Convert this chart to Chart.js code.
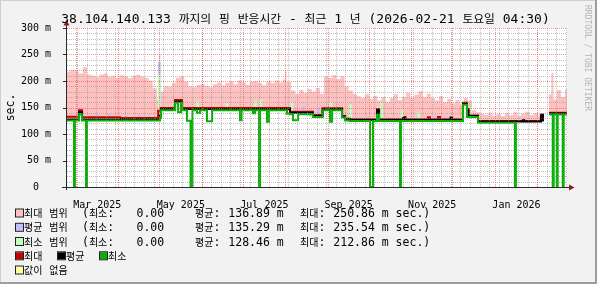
<!DOCTYPE html>
<html>
<head>
<meta charset="utf-8">
<script src="https://cdn.jsdelivr.net/npm/chart.js@4.4.1/dist/chart.umd.min.js"></script>
<style>
  html, body { margin: 0; padding: 0; background: #f2f2f2; }
  canvas { display: block; }
</style>
</head>
<body>
<canvas id="ping" width="597" height="284"></canvas>
<script>
// x is counted in days from 2025-03-01, the graph covers one year up to 2026-02-21 04:30
const xFirst = -6.6, xLast = 358.4;
const labelMonths = [[2025, 2], [2025, 4], [2025, 6], [2025, 8], [2025, 10], [2026, 0]];
const tickLabels = ['Mar 2025', 'May 2025', 'Jul 2025', 'Sep 2025', 'Nov 2025', 'Jan 2026'];

// max range: top of the pink band (it is filled down to the avg line)
const areaDays = [
  -6.6, -4, -1, 2, 5, 8, 11, 14, 17, 20,
  23, 26, 29, 32, 35, 38, 41, 44, 47, 50,
  53, 56, 59, 60.6, 61.6, 64, 67, 70, 73, 76,
  79, 82, 85, 88, 91, 94, 97, 100, 103, 106,
  109, 112, 115, 118, 121, 124, 127, 130, 133, 136,
  139, 142, 145, 148, 151, 152.5, 153.5, 157, 160, 163,
  166, 169, 172, 175, 178, 181, 184, 187, 190, 193,
  196, 199, 202, 205, 208, 211, 214, 217, 220, 223,
  226, 229, 232, 235, 238, 241, 244, 247, 250, 253,
  256, 259, 262, 265, 268, 271, 274, 277, 280, 283,
  286, 289, 292, 295, 298, 301, 304, 307, 310, 313,
  316, 319, 322, 325, 328, 331, 334, 337, 340, 342.3,
  345.3, 347, 348.5, 351, 354, 357, 358.4
];
const maxRangeTop = [
  218, 221, 220, 214, 226, 212, 210, 207, 212, 214,
  208, 210, 206, 211, 209, 205, 210, 212, 208, 206,
  201, 186, 165, 250, 180, 190, 189, 196, 206, 209,
  199, 190, 188, 193, 195, 191, 188, 194, 197, 192,
  196, 199, 194, 201, 197, 193, 198, 200, 196, 192,
  199, 196, 201, 197, 203, 220, 198, 182, 176, 183,
  178, 185, 180, 187, 176, 208, 206, 211, 204, 209,
  190, 182, 176, 171, 168, 175, 166, 172, 163, 170,
  161, 168, 175, 164, 170, 178, 168, 174, 181, 170,
  176, 168, 163, 171, 160, 166, 158, 164, 155, 168,
  163, 145, 141, 138, 136, 140, 135, 138, 134, 139,
  136, 141, 135, 138, 142, 136, 139, 135, 140, null,
  175, 215, 165, 183, 170, 184, 184
];

// avg range and min range spikes (low, high)
const avgRangeDays = [2.9, 15, 24, 37, 46, 53, 60.8, 161, 166, 171, 177, 205, 213, 228, 245, 262, 270];
const avgRangeLow  = [141, 128, 128, 128, 128, 128, 135, 140, 140, 134, 134, 126.5, 126.5, 126.5, 126.5, 126.5, 126.5];
const avgRangeHigh = [151, 136, 138, 134, 137, 135, 235, 150, 152, 146, 149, 131, 132, 130, 131, 132, 130];

const minRangeDays = [60.8, 88.8, 110, 131, 134.8, 157.5, 186, 200.5, 220, 223, 238, 250, 288];
const minRangeLow  = [130, 145, 145, 145, 145, 140, 145, 125, 125, 125, 125, 125, 132];
const minRangeHigh = [212, 161, 158, 162, 164, 160, 160, 155, 150, 158, 145, 140, 150];

// step lines (value holds until the next day listed)
const maxDays = [-6.6, 2.2, 4.4, 32.1, 59.9, 61.8, 72.3, 77.4, 156.2, 173, 180, 194.2, 196.4, 200, 219.7, 221.2,
  239.4, 240.5, 256.9, 258.3, 264.2, 265.7, 282.5, 285.4, 286.5, 293.4, 339.4, 340.9, 342.3, 345.3, 358.4];
const maxVals = [132.5, 145, 131.5, 130, 144, 149, 164, 149, 142, 136, 148.5, 134, 129, 128, 147, 128,
  132, 128, 131.5, 128, 132, 128, 159, 147, 135, 124.5, 137, 124.5, null, 140, 140];

const avgDays = [-6.6, 2.2, 4.4, 61.3, 62, 72.3, 77.4, 156.2, 173, 180, 194.2, 196.4, 200, 219.7, 221.2,
  238.8, 239.9, 273.4, 274.5, 282.5, 285.4, 286.5, 293.4, 326.3, 327.1, 339.4, 340.9, 342.3, 345.3, 358.4];
const avgVals = [127.5, 141, 127.5, 135, 147, 161, 147, 140, 134, 147, 133, 128, 126.5, 145, 126.5,
  130, 126.5, 131, 126.5, 157, 145, 134, 123.5, 126, 123.5, 135.5, 123.5, null, 138.5, 138.5];

const minDays = [-6.6, -1.5, -0.8, 2.2, 4.4, 7.3, 8.0, 61.3, 62, 72.3, 74.5, 76.6, 77.4, 81, 83.6, 85,
  88.3, 90.5, 95.6, 99.3, 119.7, 120.8, 129.2, 130.7, 133.6, 134.3, 139.4, 140.9, 154, 156.2, 158.4, 162,
  173, 180, 185.4, 186.9, 194.2, 196.4, 200, 214.6, 216.8, 219.7, 221.2, 236.5, 237.2, 282.5, 285.4, 293.4,
  320.4, 321.1, 342.3, 345.3, 348, 348.7, 350.9, 351.6, 355.3, 356, 358.4];
const minVals = [125.5, 0, 125.5, 137, 125.5, 0, 125.5, 130, 145, 159, 141, 159, 145, 125, 0, 145,
  140, 145, 124, 145, 126, 145, 139, 145, 0, 145, 123, 145, 138, 137.5, 126, 137.5,
  132, 145, 123, 145, 131, 125.5, 124.5, 0, 124.5, 136, 124.5, 0, 124.5, 155, 132, 121,
  0, 121, null, 137, 0, 137, 0, 137, 0, 137, 137];

// legend
const titleText = '38.104.140.133 까지의 핑 반응시간 - 최근 1 년 (2026-02-21 토요일 04:30)';
const legendNames = ['최대 범위', '평균 범위', '최소 범위'];
const legendMin = ['0.00', '0.00', '0.00'];
const legendAvg = ['136.89 m', '135.29 m', '128.46 m'];
const legendMax = ['250.86 m sec.)', '235.54 m sec.)', '212.86 m sec.)'];

const MONO = '"DejaVu Sans Mono", monospace';
const KR = '"Noto Sans CJK KR", sans-serif';
const C = {
  pink: '#ffc0c0', lav: '#c0c0ff', lgreen: '#c0ffc0',
  red: '#c80000', black: '#000000', green: '#00b400', yellow: '#ffffa0',
  minor: 'rgba(140,140,140,0.55)', major: 'rgba(222,79,79,0.6)', axis: '#2a2a2a', arrow: '#8a1f1f'
};

const dayOf = (y, m, d) => (Date.UTC(y, m, d) - Date.UTC(2025, 2, 1)) / 86400000;
const xTicks = [];
for (let d = 1; d <= xLast; d += 7) xTicks.push({ value: d, kind: 'minor' });   // Sundays
for (let m = 2; m < 14; m++) xTicks.push({ value: dayOf(2025, m, 1), kind: 'major' });
labelMonths.forEach(([y, m], i) => {
  const len = dayOf(y, m + 1, 1) - dayOf(y, m, 1);
  xTicks.push({ value: dayOf(y, m, 1) + len / 2, kind: 'label', lbl: tickLabels[i] });
});

const pts = (xs, ys) => xs.map((x, i) => ({ x, y: ys[i] }));
const bars = (xs, lo, hi) => xs.map((x, i) => ({ x, y: [lo[i], hi[i]] }));
const stepLine = (data, color, order) => ({
  type: 'line', data, borderColor: color, borderWidth: 2, stepped: true,
  pointRadius: 0, fill: false, order
});

// text with hangul runs in the CJK font
const HANGUL = /[\u3131-\uD7A3]/;
const runs = t => t.match(/[\u3131-\uD7A3]+|[^\u3131-\uD7A3]+/g) || [];
function textWidth(ctx, t, latin, kr) {
  let w = 0;
  for (const r of runs(t)) { ctx.font = HANGUL.test(r) ? kr : latin; w += ctx.measureText(r).width; }
  return w;
}
function drawText(ctx, t, x, y, latin, kr) {
  for (const r of runs(t)) {
    ctx.font = HANGUL.test(r) ? kr : latin;
    ctx.fillText(r, x, y);
    x += ctx.measureText(r).width;
  }
  return x;
}
function box(ctx, x, top, color) {
  ctx.fillStyle = color;
  ctx.fillRect(x + 1, top + 1, 7, 7);
  ctx.strokeStyle = '#202020';
  ctx.lineWidth = 1;
  ctx.strokeRect(x + 0.5, top + 0.5, 8, 8);
}

// rrdtool paints its dotted grid after the graph, with translucent colours
const dottedGrid = {
  id: 'dottedGrid',
  afterDatasetsDraw(chart) {
    const { ctx, chartArea: a, scales: { x, y } } = chart;
    const top = Math.round(a.top), bottom = Math.round(a.bottom);
    const left = Math.round(a.left), right = Math.round(a.right);
    const vline = (px, col) => { ctx.fillStyle = col; for (let q = top; q < bottom; q += 2) ctx.fillRect(px, q, 1, 1); };
    const hline = (py, col) => { ctx.fillStyle = col; for (let q = left; q < right; q += 2) ctx.fillRect(q, py, 1, 1); };
    ctx.save();
    for (const t of xTicks) if (t.kind === 'minor') vline(Math.floor(x.getPixelForValue(t.value)), C.minor);
    for (let v = 10; v < 300; v += 10) if (v % 50) hline(Math.round(y.getPixelForValue(v)), C.minor);
    for (const t of xTicks) if (t.kind === 'major') vline(Math.floor(x.getPixelForValue(t.value)), C.major);
    for (let v = 50; v <= 300; v += 50) hline(Math.round(y.getPixelForValue(v)), C.major);
    ctx.restore();
  }
};

const rrdFrame = {
  id: 'rrdFrame',
  beforeDraw(chart) {
    const { ctx, chartArea: a, width: W, height: H } = chart;
    ctx.save();
    ctx.fillStyle = '#f2f2f2';
    ctx.fillRect(0, 0, W, H);
    ctx.fillStyle = '#cfcfcf';
    ctx.fillRect(0, 0, W, 1);
    ctx.fillRect(0, 0, 1, H);
    ctx.fillStyle = '#9e9e9e';
    ctx.fillRect(0, H - 2, W, 2);
    ctx.fillRect(W - 2, 0, 2, H);
    ctx.fillStyle = '#ffffff';
    ctx.fillRect(a.left, a.top, a.right - a.left, a.bottom - a.top);
    ctx.restore();
  },
  afterDraw(chart) {
    const { ctx, chartArea: a, scales } = chart;
    const ys = scales.y;
    ctx.save();
    // axes
    ctx.strokeStyle = C.axis;
    ctx.lineWidth = 1;
    ctx.beginPath();
    ctx.moveTo(a.left - 0.5, a.bottom + 3);
    ctx.lineTo(a.left - 0.5, a.top - 3);
    ctx.moveTo(a.left - 5, a.bottom + 0.5);
    ctx.lineTo(a.right + 2, a.bottom + 0.5);
    for (let v = 50; v <= 300; v += 50) {
      const py = Math.round(ys.getPixelForValue(v)) + 0.5;
      ctx.moveTo(a.left - 4, py);
      ctx.lineTo(a.left - 1, py);
    }
    ctx.stroke();
    ctx.fillStyle = C.arrow;
    ctx.beginPath();
    ctx.moveTo(a.left - 3.5, a.top - 2.5);
    ctx.lineTo(a.left + 2.5, a.top - 2.5);
    ctx.lineTo(a.left - 0.5, a.top - 8);
    ctx.closePath();
    ctx.fill();
    ctx.beginPath();
    ctx.moveTo(a.right + 2, a.bottom - 2.5);
    ctx.lineTo(a.right + 2, a.bottom + 3.5);
    ctx.lineTo(a.right + 7.5, a.bottom + 0.5);
    ctx.closePath();
    ctx.fill();

    // title
    ctx.fillStyle = '#000';
    ctx.textBaseline = 'alphabetic';
    const tl = `13px ${MONO}`, tk = `11.8px ${KR}`;
    const tw = textWidth(ctx, titleText, tl, tk);
    drawText(ctx, titleText, 305.5 - tw / 2, 23, tl, tk);

    // legend
    const ll = `11.5px ${MONO}`, lk = `10px ${KR}`;
    const fills = [C.pink, C.lav, C.lgreen];
    const rowBase = [217, 231.3, 245.5, 259.8, 274];
    for (let i = 0; i < 3; i++) {
      const b = rowBase[i];
      box(ctx, 15, b - 8.5, fills[i]);
      ctx.fillStyle = '#000';
      drawText(ctx, legendNames[i], 24, b, ll, lk);
      drawText(ctx, '(최소:', 82, b, ll, lk);
      drawText(ctx, legendMin[i], 136.5, b, ll, lk);
      drawText(ctx, '평균:', 195, b, ll, lk);
      drawText(ctx, legendAvg[i], 228.3, b, ll, lk);
      drawText(ctx, '최대:', 300, b, ll, lk);
      drawText(ctx, legendMax[i], 333.3, b, ll, lk);
    }
    const lineKeys = [[15, C.red, '최대'], [57, C.black, '평균'], [99, C.green, '최소']];
    for (const [x, col, name] of lineKeys) {
      box(ctx, x, rowBase[3] - 8.5, col);
      ctx.fillStyle = '#000';
      drawText(ctx, name, x + 9, rowBase[3], ll, lk);
    }
    box(ctx, 15, rowBase[4] - 8.5, C.yellow);
    ctx.fillStyle = '#000';
    drawText(ctx, '값이 없음', 24, rowBase[4], ll, lk);

    // watermark
    ctx.translate(587, 5);
    ctx.rotate(Math.PI / 2);
    ctx.font = `8px ${MONO}`;
    ctx.fillStyle = '#b4b4b4';
    ctx.textBaseline = 'middle';
    ctx.fillText('RRDTOOL / TOBI OETIKER', 0, 0);
    ctx.restore();
  }
};

new Chart(document.getElementById('ping'), {
  type: 'line',
  data: {
    datasets: [
      { type: 'line', data: pts(areaDays, maxRangeTop), borderColor: 'rgba(0,0,0,0)', borderWidth: 1,
        backgroundColor: C.pink, stepped: true, pointRadius: 0, fill: 4, order: 6 },
      { type: 'bar', data: bars(avgRangeDays, avgRangeLow, avgRangeHigh), backgroundColor: C.lav,
        barThickness: 2, grouped: false, order: 5 },
      { type: 'bar', data: bars(minRangeDays, minRangeLow, minRangeHigh), backgroundColor: C.lgreen,
        barThickness: 2, grouped: false, order: 4 },
      stepLine(pts(maxDays, maxVals), C.red, 3),
      stepLine(pts(avgDays, avgVals), C.black, 2),
      stepLine(pts(minDays, minVals), C.green, 1)
    ]
  },
  plugins: [rrdFrame, dottedGrid],
  options: {
    responsive: false,
    animation: false,
    events: [],
    devicePixelRatio: 1,
    layout: { padding: { left: 0, right: 30, top: 28, bottom: 0 } },
    plugins: { legend: { display: false }, tooltip: { enabled: false }, title: { display: false } },
    scales: {
      x: {
        type: 'linear', min: xFirst, max: xLast, offset: false,
        afterBuildTicks: s => { s.ticks = xTicks.map(t => ({ ...t })); },
        afterFit: s => { s.height = 97; },
        grid: { display: false, offset: false },
        border: { display: false },
        ticks: {
          autoSkip: false, maxRotation: 0, minRotation: 0, padding: 4, color: '#000',
          font: { family: MONO, size: 10 },
          callback: (v, i, ticks) => ticks[i].lbl || ''
        }
      },
      y: {
        min: 0, max: 300,
        afterFit: s => { s.width = 67; },
        grid: { display: false },
        border: { display: false },
        ticks: {
          stepSize: 10, autoSkip: false, padding: 8, color: '#000',
          font: { family: MONO, size: 10 },
          callback: v => v % 50 !== 0 ? '' : (v === 0 ? '0  ' : v + ' m')
        },
        title: { display: true, text: 'sec.', color: '#000', font: { family: MONO, size: 11.5 }, padding: { top: 4, bottom: 0 } }
      }
    }
  }
});
</script>
</body>
</html>
